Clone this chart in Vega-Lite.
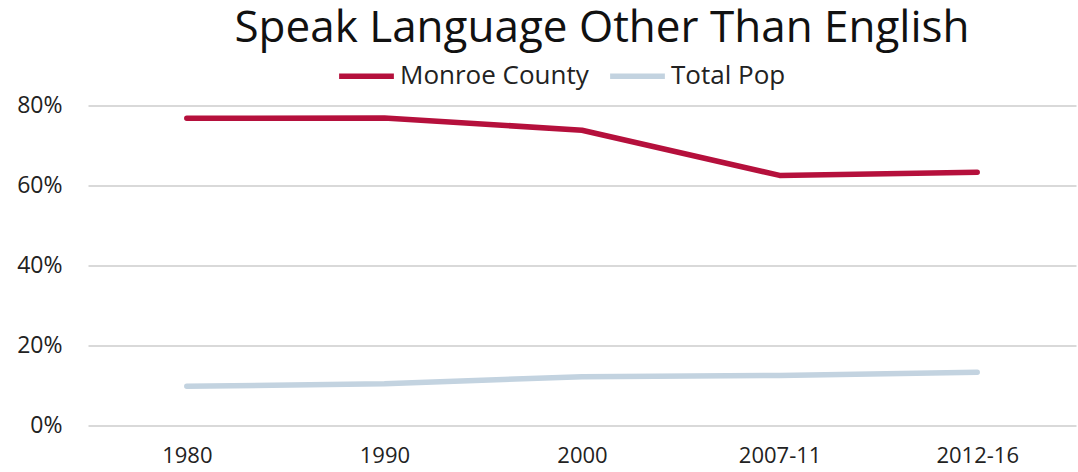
{
  "$schema": "https://vega.github.io/schema/vega-lite/v6.json",
  "width": 988,
  "height": 319.5,
  "autosize": {"type": "none"},
  "padding": {"left": 88, "top": 105.5, "right": 2, "bottom": 47},
  "background": "white",
  "title": {
    "text": "Speak Language Other Than English",
    "font": "Open Sans",
    "fontSize": 44,
    "fontWeight": "normal",
    "color": "#111111",
    "anchor": "middle",
    "baseline": "alphabetic",
    "dx": 20,
    "offset": -40
  },
  "data": {
    "values": [
      {"period": "1980", "series": "Monroe County", "value": 0.768},
      {"period": "1990", "series": "Monroe County", "value": 0.769},
      {"period": "2000", "series": "Monroe County", "value": 0.738},
      {"period": "2007-11", "series": "Monroe County", "value": 0.625},
      {"period": "2012-16", "series": "Monroe County", "value": 0.633},
      {"period": "1980", "series": "Total Pop", "value": 0.097},
      {"period": "1990", "series": "Total Pop", "value": 0.103},
      {"period": "2000", "series": "Total Pop", "value": 0.121},
      {"period": "2007-11", "series": "Total Pop", "value": 0.124},
      {"period": "2012-16", "series": "Total Pop", "value": 0.132}
    ]
  },
  "mark": {"type": "line", "strokeWidth": 5.5, "strokeCap": "round", "strokeJoin": "round"},
  "encoding": {
    "x": {
      "field": "period",
      "type": "ordinal",
      "sort": ["1980", "1990", "2000", "2007-11", "2012-16"],
      "scale": {"type": "point", "padding": 0.5},
      "axis": {
        "title": null,
        "labelAngle": 0,
        "labelFont": "Open Sans",
        "labelFontSize": 22,
        "labelColor": "#222222",
        "labelPadding": 20,
        "domain": false,
        "ticks": false,
        "grid": false
      }
    },
    "y": {
      "field": "value",
      "type": "quantitative",
      "scale": {"domain": [0, 0.8], "nice": false},
      "axis": {
        "title": null,
        "values": [0, 0.2, 0.4, 0.6, 0.8],
        "format": ".0%",
        "labelFont": "Open Sans",
        "labelFontSize": 23,
        "labelColor": "#222222",
        "labelPadding": 26,
        "domain": false,
        "ticks": false,
        "grid": true,
        "gridColor": "#d9d9d9",
        "gridWidth": 2
      }
    },
    "color": {
      "field": "series",
      "type": "nominal",
      "scale": {"domain": ["Monroe County", "Total Pop"], "range": ["#b5103c", "#c3d3e0"]},
      "legend": {
        "title": null,
        "orient": "none",
        "direction": "horizontal",
        "legendX": 248,
        "legendY": -60,
        "symbolType": "stroke",
        "symbolSize": 3000,
        "symbolStrokeWidth": 5.5,
        "labelFont": "Open Sans",
        "labelFontSize": 26,
        "labelLimit": 400,
        "labelColor": "#222222",
        "labelOffset": 3,
        "columnPadding": 10
      }
    }
  },
  "config": {"view": {"stroke": null}}
}
